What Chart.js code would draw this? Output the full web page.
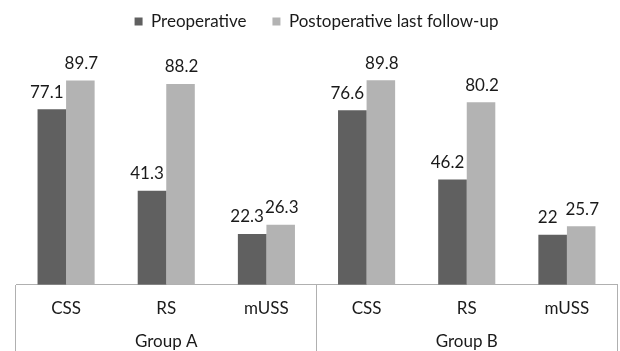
<!DOCTYPE html>
<html>
<head>
<meta charset="utf-8">
<script src="https://cdn.jsdelivr.net/npm/chart.js@4/dist/chart.umd.min.js"></script>
<style>
  html, body { margin: 0; padding: 0; background: #fff; }
  #wrap { width: 620px; height: 351px; }
</style>
</head>
<body>
<div id="wrap"><canvas id="scoreChart"></canvas></div>
<script>
const categories = ["CSS", "RS", "mUSS", "CSS", "RS", "mUSS"];
const groups = ["Group A", "Group B"];
const preoperative = [77.1, 41.3, 22.3, 76.6, 46.2, 22];
const postoperative = [89.7, 88.2, 26.3, 89.8, 80.2, 25.7];

// group name goes as a second line under the middle category of each group
// (two empty lines keep the axis box tall enough so the labels are not clipped)
const labels = categories.map((c, i) => (i % 3 === 1 ? [c, groups[Math.floor(i / 3)], "", ""] : [c]));

const fontFamily = "Lato, 'Open Sans', sans-serif";
const lineGray = "#b0b0b0";

const valueLabels = {
    id: "valueLabels",
    afterDatasetsDraw(chart) {
        const ctx = chart.ctx;
        ctx.save();
        ctx.font = "17px " + fontFamily;
        ctx.fillStyle = "#1a1a1a";
        ctx.textAlign = "center";
        ctx.textBaseline = "middle";
        chart.data.datasets.forEach((ds, di) => {
            const meta = chart.getDatasetMeta(di);
            const shift = di === 0 ? -5 : 1;
            meta.data.forEach((bar, i) => {
                ctx.fillText(String(ds.data[i]), bar.x + shift, bar.y - 17);
            });
        });
        ctx.restore();
    },
};

const data = {
    labels: labels,
    datasets: [
        {
            label: "Preoperative",
            data: preoperative,
            backgroundColor: "#606060",
        },
        {
            label: "Postoperative last follow-up",
            data: postoperative,
            backgroundColor: "#b3b3b3",
        },
    ],
};

const config = {
    type: "bar",
    data: data,
    plugins: [valueLabels],
    options: {
        responsive: true,
        maintainAspectRatio: false,
        animation: false,
        categoryPercentage: 0.57,
        barPercentage: 1.0,
        layout: {
            padding: { top: -13, left: 16, right: 3, bottom: -14 },
        },
        plugins: {
            legend: {
                position: "top",
                labels: {
                    boxWidth: 8,
                    boxHeight: 8,
                    padding: 26,
                    color: "#1a1a1a",
                    font: { size: 17, family: fontFamily },
                },
            },
            tooltip: { enabled: false },
        },
        scales: {
            x: {
                grid: {
                    display: true,
                    offset: true,
                    drawOnChartArea: false,
                    tickLength: 67,
                    color: (c) => (c.index === undefined || c.index % 3 === 0 ? lineGray : "rgba(0,0,0,0)"),
                },
                border: { display: true, color: lineGray, width: 1 },
                ticks: {
                    color: "#1a1a1a",
                    padding: -60,
                    autoSkip: false,
                    maxRotation: 0,
                    font: { size: 17, family: fontFamily, lineHeight: 1.96 },
                },
            },
            y: {
                display: false,
                min: 0,
                max: 107.5,
            },
        },
    },
};

new Chart(document.getElementById("scoreChart"), config);
</script>
</body>
</html>
